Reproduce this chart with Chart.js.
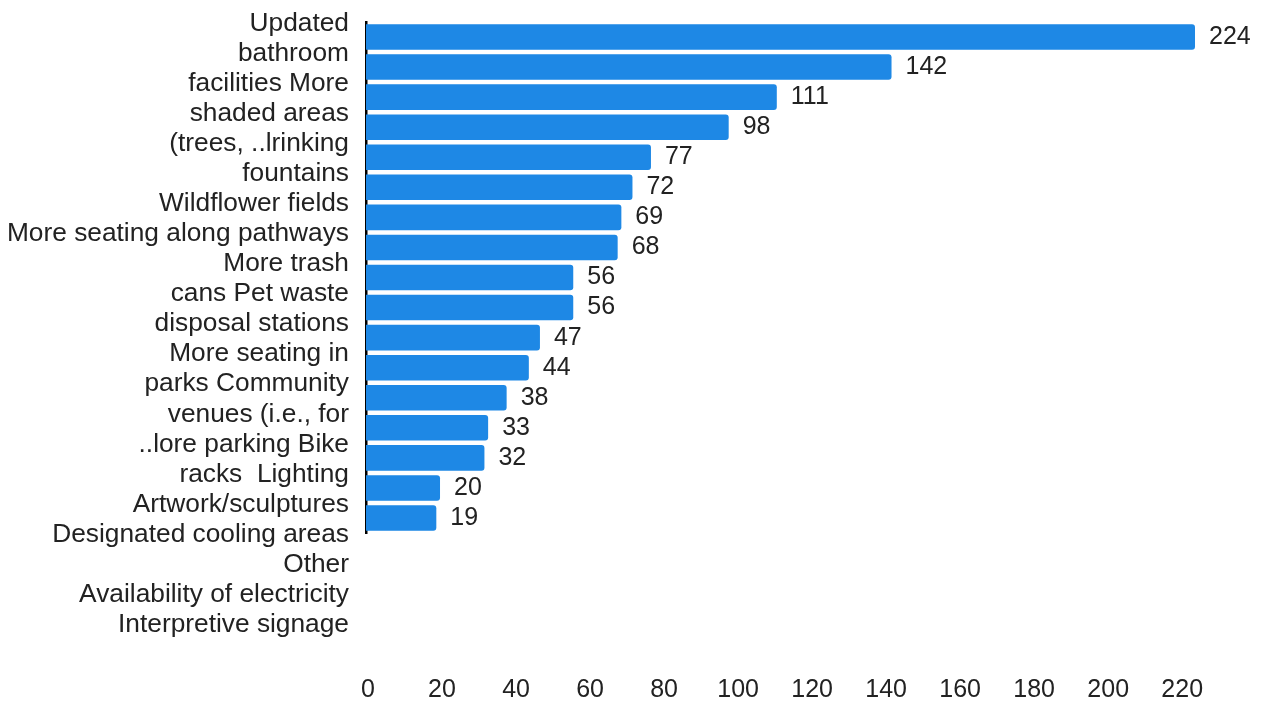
<!DOCTYPE html>
<html>
<head>
<meta charset="utf-8">
<script src="https://cdn.jsdelivr.net/npm/chart.js@4.4.1/dist/chart.umd.min.js"></script>
<style>
  html, body { margin: 0; padding: 0; background: #ffffff; overflow: hidden; }
  #chart { display: block; width: 1263px; height: 702px; }
</style>
</head>
<body>
<canvas id="chart" width="1263" height="702"></canvas>
<script>
// ---- data ----
const categories = [
  "Updated bathroom facilities",
  "More shaded areas (trees, ...)",
  "Drinking fountains",
  "Wildflower fields",
  "More seating along pathways",
  "More trash cans",
  "Pet waste disposal stations",
  "More seating in parks",
  "Community venues (i.e., for ...)",
  "More parking",
  "Bike racks",
  "Lighting",
  "Artwork/sculptures",
  "Designated cooling areas",
  "Other",
  "Availability of electricity",
  "Interpretive signage"
];
const values = [224, 142, 111, 98, 77, 72, 69, 68, 56, 56, 47, 44, 38, 33, 32, 20, 19];
// category text lines as they appear beside the axis
const yLabelLines = [
  "Updated",
  "bathroom",
  "facilities More",
  "shaded areas",
  "(trees, ..lrinking",
  "fountains",
  "Wildflower fields",
  "More seating along pathways",
  "More trash",
  "cans Pet waste",
  "disposal stations",
  "More seating in",
  "parks Community",
  "venues (i.e., for",
  "..lore parking Bike",
  "racks  Lighting",
  "Artwork/sculptures",
  "Designated cooling areas",
  "Other",
  "Availability of electricity",
  "Interpretive signage"
];
const xTickValues = [0, 20, 40, 60, 80, 100, 120, 140, 160, 180, 200, 220];

// ---- styles ----
const FONT = "'Liberation Sans', Arial, Helvetica, sans-serif";
const TEXT = '#222222';
const BAR = '#1E88E5';

const yLinesPlugin = {
  id: 'yLines',
  afterDraw(chart) {
    const y = chart.scales.y;
    const ctx = chart.ctx;
    const p0 = y.getPixelForTick(0);
    const slot = y.getPixelForTick(1) - p0;
    ctx.save();
    ctx.font = '26.3px ' + FONT;
    ctx.fillStyle = TEXT;
    ctx.textAlign = 'right';
    ctx.textBaseline = 'middle';
    const xr = chart.chartArea.left - 17;
    yLabelLines.forEach((line, j) => {
      ctx.fillText(line, xr, p0 - slot / 2 + j * slot + 1.5);
    });
    ctx.restore();
  }
};

const valueLabelPlugin = {
  id: 'valueLabels',
  afterDatasetsDraw(chart) {
    const ctx = chart.ctx;
    const meta = chart.getDatasetMeta(0);
    ctx.save();
    ctx.font = '25px ' + FONT;
    ctx.fillStyle = TEXT;
    ctx.textAlign = 'left';
    ctx.textBaseline = 'middle';
    meta.data.forEach((bar, i) => {
      ctx.fillText(String(values[i]), bar.x + 14, bar.y);
    });
    ctx.restore();
  }
};

new Chart(document.getElementById('chart'), {
  type: 'bar',
  data: {
    labels: categories,
    datasets: [{
      data: values,
      backgroundColor: BAR,
      borderWidth: 0,
      borderRadius: 3,
      borderSkipped: 'start',
      barPercentage: 0.85,
      categoryPercentage: 1.0
    }]
  },
  options: {
    indexAxis: 'y',
    responsive: false,
    maintainAspectRatio: false,
    devicePixelRatio: 1,
    animation: false,
    layout: { padding: { left: 366, right: 68, top: 22, bottom: 0 } },
    plugins: {
      legend: { display: false },
      tooltip: { enabled: false }
    },
    scales: {
      x: {
        type: 'linear',
        min: 0,
        max: 224,
        afterBuildTicks: (s) => { s.ticks = xTickValues.map(v => ({ value: v })); },
        afterFit: (s) => { s.height = 169; s.paddingLeft = 0; s.paddingRight = 0; },
        grid: { display: false, drawTicks: false },
        border: { display: false },
        ticks: {
          color: TEXT,
          font: { family: FONT, size: 25, lineHeight: 1 },
          padding: 145,
          labelOffset: 2,
          maxRotation: 0,
          autoSkip: false
        }
      },
      y: {
        type: 'category',
        offset: true,
        z: 1,
        grid: { display: false, drawTicks: false },
        border: { display: true, color: '#000000', width: 2.5, dash: [3, 3] },
        ticks: { display: false }
      }
    }
  },
  plugins: [yLinesPlugin, valueLabelPlugin]
});
</script>
</body>
</html>
